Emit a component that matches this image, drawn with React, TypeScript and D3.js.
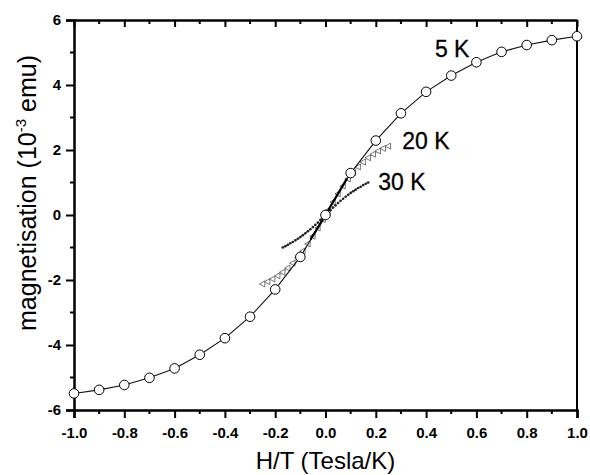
import React, { useEffect, useRef } from 'react'
import * as d3 from 'd3'

// 5 K isotherm (open circles)
const field5K = [-1.0, -0.9, -0.8, -0.7, -0.6, -0.5, -0.4, -0.3, -0.2, -0.1, 0, 0.1, 0.2, 0.3, 0.4, 0.5, 0.6, 0.7, 0.8, 0.9, 1.0]
const mag5K = [-5.49, -5.38, -5.23, -5.01, -4.72, -4.30, -3.79, -3.13, -2.29, -1.29, 0, 1.29, 2.29, 3.13, 3.79, 4.29, 4.70, 5.02, 5.23, 5.38, 5.50]

// 5 K low field sweep (thick line near origin)
const field5KLow = [-0.06, -0.04, -0.02, 0, 0.02, 0.04, 0.06, 0.085]
const mag5KLow = [-0.76, -0.51, -0.26, 0, 0.27, 0.53, 0.79, 1.12]

// 20 K isotherm (open triangles)
const field20K = [-0.25, -0.23, -0.21, -0.19, -0.17, -0.15, -0.13, -0.11, -0.09, -0.07, -0.05, -0.03, -0.01,
  0.01, 0.03, 0.05, 0.07, 0.09, 0.11, 0.13, 0.15, 0.17, 0.19, 0.21, 0.23, 0.25]
const mag20K = [-2.12, -2.05, -1.97, -1.87, -1.76, -1.63, -1.48, -1.31, -1.11, -0.89, -0.65, -0.40, -0.14,
  0.14, 0.40, 0.65, 0.89, 1.11, 1.31, 1.48, 1.63, 1.76, 1.87, 1.97, 2.05, 2.12]

// 30 K isotherm (small dots)
const field30K = [-0.17, -0.16, -0.15, -0.14, -0.13, -0.12, -0.11, -0.10, -0.09, -0.08, -0.07, -0.06, -0.05, -0.04, -0.03, -0.02, -0.01, 0,
  0.01, 0.02, 0.03, 0.04, 0.05, 0.06, 0.07, 0.08, 0.09, 0.10, 0.11, 0.12, 0.13, 0.14, 0.15, 0.16, 0.17]
const mag30K = [-1.00, -0.96, -0.92, -0.87, -0.83, -0.78, -0.73, -0.68, -0.62, -0.56, -0.50, -0.44, -0.37, -0.30, -0.23, -0.15, -0.08, 0,
  0.08, 0.15, 0.23, 0.30, 0.37, 0.44, 0.50, 0.56, 0.62, 0.68, 0.73, 0.78, 0.83, 0.87, 0.92, 0.96, 1.00]

const xMajor = [-1.0, -0.8, -0.6, -0.4, -0.2, 0.0, 0.2, 0.4, 0.6, 0.8, 1.0]
const xMinor = [-0.9, -0.7, -0.5, -0.3, -0.1, 0.1, 0.3, 0.5, 0.7, 0.9]
const yMajor = [-6, -4, -2, 0, 2, 4, 6]
const yMinor = [-5, -3, -1, 1, 3, 5]

const seriesLabels = [
  { text: '5 K', x: 0.435, y: 4.85 },
  { text: '20 K', x: 0.305, y: 2.03 },
  { text: '30 K', x: 0.21, y: 0.78 },
]

const W = 590, H = 475
const margin = { top: 20, right: 13, bottom: 65, left: 74 }
const font = 'Liberation Sans, Arial, sans-serif'

export default function App() {
  const ref = useRef<SVGSVGElement>(null)

  useEffect(() => {
    const svg = d3.select(ref.current)
    svg.selectAll('*').remove()

    const x = d3.scaleLinear().domain([-1, 1]).range([margin.left, W - margin.right])
    const y = d3.scaleLinear().domain([-6, 6]).range([H - margin.bottom, margin.top])
    const fmt = (d: number) => d3.format('.1f')(d).replace('−', '-')

    // bottom axis, outward ticks
    const bottom = svg.append('g').attr('transform', `translate(0,${y(-6)})`)
    bottom.call(d3.axisBottom(x).tickValues(xMajor).tickFormat(fmt as any).tickSize(8).tickPadding(9))
    bottom.append('g').selectAll('line').data(xMinor).join('line')
      .attr('x1', d => x(d)).attr('x2', d => x(d)).attr('y1', 0).attr('y2', 4)
      .attr('stroke', '#000').attr('stroke-width', 2)

    // left axis, outward ticks
    const left = svg.append('g').attr('transform', `translate(${x(-1)},0)`)
    left.call(d3.axisLeft(y).tickValues(yMajor).tickFormat(d3.format('d') as any).tickSize(8).tickPadding(5))
    left.selectAll('.tick text').text((d: any) => String(d).replace('−', '-'))
    left.append('g').selectAll('line').data(yMinor).join('line')
      .attr('y1', d => y(d)).attr('y2', d => y(d)).attr('x1', 0).attr('x2', -4)
      .attr('stroke', '#000').attr('stroke-width', 2)

    // top axis, inward ticks, no labels
    const top = svg.append('g').attr('transform', `translate(0,${y(6)})`)
    top.call(d3.axisTop(x).tickValues(xMajor).tickFormat(() => '').tickSize(-7).tickSizeOuter(0))
    top.append('g').selectAll('line').data(xMinor).join('line')
      .attr('x1', d => x(d)).attr('x2', d => x(d)).attr('y1', 0).attr('y2', 4)
      .attr('stroke', '#000').attr('stroke-width', 2)

    // right border
    svg.append('line')
      .attr('x1', x(1)).attr('x2', x(1)).attr('y1', y(6)).attr('y2', y(-6))
      .attr('stroke', '#000').attr('stroke-width', 2)

    svg.selectAll('.domain').attr('stroke-width', 2.5)
    svg.selectAll('.tick line').attr('stroke-width', 2)
    svg.selectAll('.tick text')
      .attr('font-family', font).attr('font-size', 15).attr('font-weight', 'bold').attr('fill', '#000')

    const line = d3.line<[number, number]>().x(d => x(d[0])).y(d => y(d[1]))
    const pts = (xs: number[], ys: number[]) => xs.map((v, i) => [v, ys[i]] as [number, number])

    const d5 = pts(field5K, mag5K)
    const d5low = pts(field5KLow, mag5KLow)
    const d20 = pts(field20K, mag20K)
    const d30 = pts(field30K, mag30K)

    // 20 K
    svg.append('path').attr('d', line(d20)).attr('fill', 'none')
      .attr('stroke', '#777').attr('stroke-width', 0.8).attr('stroke-dasharray', '3,2')
    svg.append('g').selectAll('path').data(d20).join('path')
      .attr('transform', d => `translate(${x(d[0])},${y(d[1])})`)
      .attr('d', 'M-3.2,0 L2.2,-3 L2.2,3 Z')
      .attr('fill', '#fff').attr('stroke', '#555').attr('stroke-width', 0.8)

    // 30 K
    svg.append('path').attr('d', line(d30)).attr('fill', 'none')
      .attr('stroke', '#333').attr('stroke-width', 1.2).attr('stroke-dasharray', '2,1.5')
    svg.append('g').selectAll('circle').data(d30).join('circle')
      .attr('cx', d => x(d[0])).attr('cy', d => y(d[1])).attr('r', 1.3)
      .attr('fill', '#222')

    // 5 K
    svg.append('path').attr('d', line(d5)).attr('fill', 'none')
      .attr('stroke', '#111').attr('stroke-width', 1.1)
    svg.append('path').attr('d', line(d5low)).attr('fill', 'none')
      .attr('stroke', '#000').attr('stroke-width', 2.2)
    svg.append('g').selectAll('circle').data(d5).join('circle')
      .attr('cx', d => x(d[0])).attr('cy', d => y(d[1])).attr('r', 4.8)
      .attr('fill', '#fff').attr('stroke', '#000').attr('stroke-width', 1)

    // series labels
    svg.append('g').selectAll('text').data(seriesLabels).join('text')
      .attr('x', d => x(d.x)).attr('y', d => y(d.y))
      .attr('font-family', font).attr('font-size', 23).attr('fill', '#000')
      .attr('stroke', '#000').attr('stroke-width', 0.3)
      .text(d => d.text)

    // axis titles
    svg.append('text')
      .attr('x', x(0)).attr('y', 469)
      .attr('text-anchor', 'middle')
      .attr('font-family', font).attr('font-size', 24).attr('fill', '#000')
      .text('H/T (Tesla/K)')

    const yt = svg.append('text')
      .attr('transform', `translate(36,193) rotate(-90)`)
      .attr('text-anchor', 'middle')
      .attr('font-family', font).attr('font-size', 25).attr('fill', '#000')
    yt.append('tspan').text('magnetisation (10')
    yt.append('tspan').attr('dy', -10).attr('font-size', 15).text('-3')
    yt.append('tspan').attr('dy', 10).text(' emu)')
  }, [])

  return (
    <svg ref={ref} width={W} height={H}
      style={{ position: 'absolute', left: 0, top: 0, background: '#fff' }} />
  )
}
